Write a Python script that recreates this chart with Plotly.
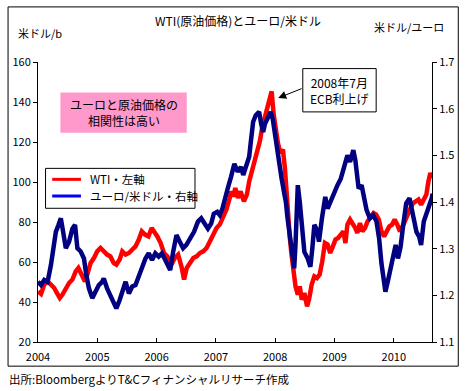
import plotly.graph_objects as go

# ---------------- data ----------------
wti_t = [2004.000, 2004.051, 2004.106, 2004.162, 2004.218, 2004.274, 2004.318, 2004.368, 2004.413, 2004.469,
         2004.524, 2004.580, 2004.636, 2004.681, 2004.736, 2004.792, 2004.831, 2004.887, 2004.943, 2004.998,
         2005.054, 2005.109, 2005.165, 2005.221, 2005.276, 2005.321, 2005.377, 2005.421, 2005.477, 2005.533,
         2005.589, 2005.644, 2005.700, 2005.750, 2005.806, 2005.862, 2005.917, 2005.962, 2006.012, 2006.068,
         2006.124, 2006.180, 2006.251, 2006.307, 2006.363, 2006.419, 2006.463, 2006.508, 2006.564, 2006.619,
         2006.675, 2006.731, 2006.787, 2006.842, 2006.898, 2006.954, 2007.010, 2007.065, 2007.121, 2007.177,
         2007.233, 2007.255, 2007.294, 2007.327, 2007.372, 2007.417, 2007.472, 2007.522, 2007.561, 2007.606,
         2007.651, 2007.695, 2007.740, 2007.784, 2007.829, 2007.874, 2007.907, 2007.940, 2007.974, 2008.007,
         2008.046, 2008.085, 2008.130, 2008.163, 2008.191, 2008.219, 2008.247, 2008.275, 2008.303, 2008.331,
         2008.342, 2008.381, 2008.414, 2008.448, 2008.492, 2008.537, 2008.570, 2008.615, 2008.660, 2008.704,
         2008.749, 2008.793, 2008.838, 2008.883, 2008.927, 2008.972, 2009.016, 2009.061, 2009.106, 2009.150,
         2009.184, 2009.217, 2009.262, 2009.306, 2009.351, 2009.384, 2009.418, 2009.429, 2009.468, 2009.513,
         2009.557, 2009.602, 2009.658, 2009.702, 2009.747, 2009.791, 2009.836, 2009.880, 2009.925, 2009.970,
         2010.014, 2010.059, 2010.103, 2010.148, 2010.193, 2010.237, 2010.282, 2010.327, 2010.371, 2010.416,
         2010.460, 2010.505, 2010.549, 2010.583, 2010.616, 2010.650]
wti_v = [45.3, 44.0, 48.7, 50.3, 48.7, 47.0, 44.5, 42.0, 43.7, 47.0,
         49.5, 51.2, 55.3, 57.0, 53.7, 50.3, 53.7, 59.5, 62.0, 65.3,
         67.0, 65.3, 63.7, 62.8, 59.5, 58.7, 61.2, 65.3, 63.7, 64.5,
         66.2, 67.8, 71.2, 75.3, 73.7, 72.8, 77.0, 75.3, 72.8, 69.5,
         64.5, 62.8, 58.7, 62.0, 63.7, 57.8, 51.2, 57.0, 59.5, 62.0,
         62.8, 64.5, 65.3, 67.0, 70.3, 73.7, 77.0, 78.7, 82.0, 86.2,
         92.0, 95.3, 92.8, 97.0, 92.0, 95.3, 90.3, 93.7, 100.3, 105.3,
         108.7, 115.3, 120.3, 127.8, 132.8, 137.8, 142.0, 145.3, 133.7, 125.3,
         119.5, 114.5, 116.2, 107.0, 93.7, 82.0, 72.0, 63.7, 54.5, 48.7,
         47.8, 43.7, 47.8, 41.2, 44.5, 37.8, 41.2, 48.7, 52.8, 52.0,
         53.7, 60.3, 69.5, 68.7, 64.5, 67.8, 71.2, 72.0, 73.7, 75.3,
         69.5, 78.7, 81.2, 79.5, 77.0, 74.5, 78.7, 79.5, 75.3, 77.0,
         80.3, 82.0, 84.5, 83.7, 81.2, 75.3, 72.8, 75.3, 77.8, 78.7,
         81.2, 78.7, 75.3, 77.8, 81.2, 84.5, 87.0, 89.5, 90.3, 91.2,
         88.7, 91.2, 93.7, 100.3, 104.5, 102.0]

eur_t = [2004.000, 2004.051, 2004.106, 2004.162, 2004.218, 2004.257, 2004.301, 2004.346, 2004.385, 2004.424,
         2004.469, 2004.524, 2004.580, 2004.625, 2004.664, 2004.720, 2004.775, 2004.814, 2004.859, 2004.915,
         2004.970, 2005.026, 2005.082, 2005.109, 2005.165, 2005.221, 2005.276, 2005.321, 2005.377, 2005.433,
         2005.477, 2005.533, 2005.589, 2005.644, 2005.700, 2005.756, 2005.812, 2005.867, 2005.923, 2005.979,
         2006.035, 2006.090, 2006.146, 2006.196, 2006.229, 2006.279, 2006.335, 2006.391, 2006.447, 2006.502,
         2006.558, 2006.631, 2006.697, 2006.753, 2006.809, 2006.865, 2006.920, 2006.965, 2007.021, 2007.065,
         2007.110, 2007.154, 2007.199, 2007.255, 2007.272, 2007.311, 2007.366, 2007.422, 2007.461, 2007.517,
         2007.561, 2007.589, 2007.628, 2007.673, 2007.729, 2007.762, 2007.796, 2007.829, 2007.874, 2007.924,
         2007.957, 2007.991, 2008.035, 2008.069, 2008.108, 2008.147, 2008.180, 2008.208, 2008.236, 2008.264,
         2008.292, 2008.320, 2008.342, 2008.381, 2008.414, 2008.453, 2008.492, 2008.548, 2008.593, 2008.626,
         2008.660, 2008.704, 2008.738, 2008.788, 2008.844, 2008.883, 2008.938, 2008.994, 2009.050, 2009.106,
         2009.161, 2009.217, 2009.262, 2009.317, 2009.351, 2009.379, 2009.407, 2009.457, 2009.490, 2009.540,
         2009.596, 2009.652, 2009.708, 2009.752, 2009.791, 2009.825, 2009.858, 2009.892, 2009.936, 2009.986,
         2010.031, 2010.070, 2010.114, 2010.159, 2010.209, 2010.265, 2010.304, 2010.338, 2010.382, 2010.427,
         2010.460, 2010.505, 2010.550, 2010.594, 2010.639, 2010.655]
eur_v = [1.229, 1.222, 1.233, 1.229, 1.265, 1.308, 1.336, 1.351, 1.365, 1.336,
         1.301, 1.315, 1.343, 1.351, 1.301, 1.294, 1.279, 1.244, 1.215, 1.194,
         1.208, 1.222, 1.229, 1.236, 1.215, 1.201, 1.183, 1.172, 1.190, 1.215,
         1.229, 1.204, 1.219, 1.222, 1.240, 1.261, 1.279, 1.290, 1.276, 1.290,
         1.283, 1.290, 1.276, 1.265, 1.254, 1.293, 1.329, 1.315, 1.301, 1.308,
         1.322, 1.336, 1.358, 1.365, 1.354, 1.343, 1.354, 1.375, 1.379, 1.372,
         1.386, 1.411, 1.429, 1.454, 1.461, 1.482, 1.465, 1.475, 1.458, 1.479,
         1.497, 1.529, 1.572, 1.586, 1.593, 1.568, 1.550, 1.568, 1.579, 1.593,
         1.579, 1.547, 1.507, 1.479, 1.450, 1.422, 1.400, 1.365, 1.336, 1.308,
         1.279, 1.258, 1.308, 1.436, 1.400, 1.343, 1.293, 1.279, 1.261, 1.301,
         1.351, 1.340, 1.315, 1.365, 1.411, 1.386, 1.404, 1.422, 1.436, 1.450,
         1.479, 1.500, 1.486, 1.511, 1.490, 1.450, 1.429, 1.436, 1.415, 1.383,
         1.365, 1.372, 1.358, 1.322, 1.269, 1.229, 1.208, 1.226, 1.251, 1.290,
         1.308, 1.279, 1.304, 1.351, 1.397, 1.408, 1.386, 1.358, 1.336, 1.326,
         1.308, 1.358, 1.375, 1.386, 1.408, 1.418]

year_ticks = [2004, 2005, 2006, 2007, 2008, 2009, 2010]
year_labels = ["2004", "2005", "2006", "2007", "2008", "2009", "2010"]

title = "WTI(原油価格)とユーロ/米ドル"
left_title = "米ドル/b"
right_title = "米ドル/ユーロ"
name_wti = "WTI・左軸"
name_eur = "ユーロ/米ドル・右軸"
note_text = "ユーロと原油価格の<br>相関性は高い"
ecb_text = "2008年7月<br>ECB利上げ"
ecb_point = (2008.05, 142)
source = "出所:BloombergよりT&Cフィナンシャルリサーチ作成"

# ---------------- layout helpers ----------------
W, H = 466, 391
L, R, T, B = 35.7, 433.0, 61.7, 342.3
def px(x):
    return (x - L) / (R - L)
def py(y):
    return (B - y) / (B - T)

FONT = "Noto Sans CJK JP, sans-serif"

fig = go.Figure()
fig.add_trace(go.Scatter(x=wti_t, y=wti_v, mode="lines", name=name_wti, hoverinfo="skip",
                         line=dict(color="#FF0000", width=4.5), yaxis="y"))
fig.add_trace(go.Scatter(x=eur_t, y=eur_v, mode="lines", name=name_eur, hoverinfo="skip",
                         line=dict(color="#000080", width=4.5), yaxis="y2"))

shapes = [
    dict(type="rect", xref="paper", yref="paper", x0=px(5.5), x1=px(459.5), y0=py(366.5), y1=py(6.5),
         line=dict(color="black", width=1), fillcolor="rgba(0,0,0,0)", layer="above"),
    dict(type="rect", xref="paper", yref="paper", x0=px(58.3), x1=px(185.7), y0=py(132.7), y1=py(92.3),
         line=dict(width=0), fillcolor="#FF99CC", layer="above"),
    dict(type="rect", xref="paper", yref="paper", x0=px(43.3), x1=px(194), y0=py(208.3), y1=py(168.3),
         line=dict(color="black", width=1), fillcolor="white", layer="above"),
    dict(type="line", xref="paper", yref="paper", x0=px(50), x1=px(79), y0=py(179.3), y1=py(179.3),
         line=dict(color="#FF0000", width=3), layer="above"),
    dict(type="line", xref="paper", yref="paper", x0=px(50), x1=px(79), y0=py(196), y1=py(196),
         line=dict(color="#0000FF", width=3), layer="above"),
    dict(type="rect", xref="paper", yref="paper", x0=px(302.7), x1=px(376.7), y0=py(111.7), y1=py(68.3),
         line=dict(color="black", width=1), fillcolor="white", layer="above"),
]

def txt(x, y, s, anchor="center", size=12):
    return dict(xref="paper", yref="paper", x=px(x), y=py(y), text=s, showarrow=False,
                xanchor=anchor, yanchor="middle", font=dict(family=FONT, size=size, color="black"))

annotations = [
    txt(237, 20, title),
    txt(14, 33, left_title, "left", 11),
    txt(447, 27, right_title, "right", 11),
    txt(122, 112.5, note_text),
    txt(86, 179.3, name_wti, "left", 11.5),
    txt(86, 196, name_eur, "left", 11.5),
    txt(339.7, 90, ecb_text),
    txt(4, 379, source, "left", 11.5),
    dict(x=ecb_point[0], y=ecb_point[1], xref="x", yref="y", text="", showarrow=True,
         ax=25, ay=-10, arrowhead=2, arrowsize=1.6, arrowwidth=1, arrowcolor="black"),
]

axis_font = dict(family=FONT, size=11, color="black")
fig.update_layout(
    width=W, height=H, autosize=False,
    margin=dict(l=L, r=W - R, t=T, b=H - B, pad=0),
    paper_bgcolor="white", plot_bgcolor="white",
    showlegend=False, hovermode=False,
    shapes=shapes, annotations=annotations,
    xaxis=dict(range=[2004, 2004 + (R - L) / 59.8], tickvals=year_ticks, ticktext=year_labels,
               ticks="inside", ticklen=4, tickcolor="black", showline=True, linecolor="black",
               linewidth=1, showgrid=False, zeroline=False, tickfont=axis_font,
               ticklabelstandoff=5),
    yaxis=dict(range=[20, 160], dtick=20, ticks="outside", ticklen=4, tickcolor="black",
               showline=True, linecolor="black", linewidth=1, showgrid=False, zeroline=False,
               tickfont=axis_font),
    yaxis2=dict(range=[1.1, 1.7], dtick=0.1, tickformat=".1f", overlaying="y", side="right",
                ticks="outside", ticklen=4, tickcolor="black", showline=True, linecolor="black",
                linewidth=1, showgrid=False, zeroline=False, tickfont=axis_font),
)

fig.write_html("out.html", config={"displayModeBar": False, "staticPlot": True},
               post_script="document.body.style.margin='0';document.body.style.padding='0';"
                           "document.documentElement.style.overflow='hidden';")
